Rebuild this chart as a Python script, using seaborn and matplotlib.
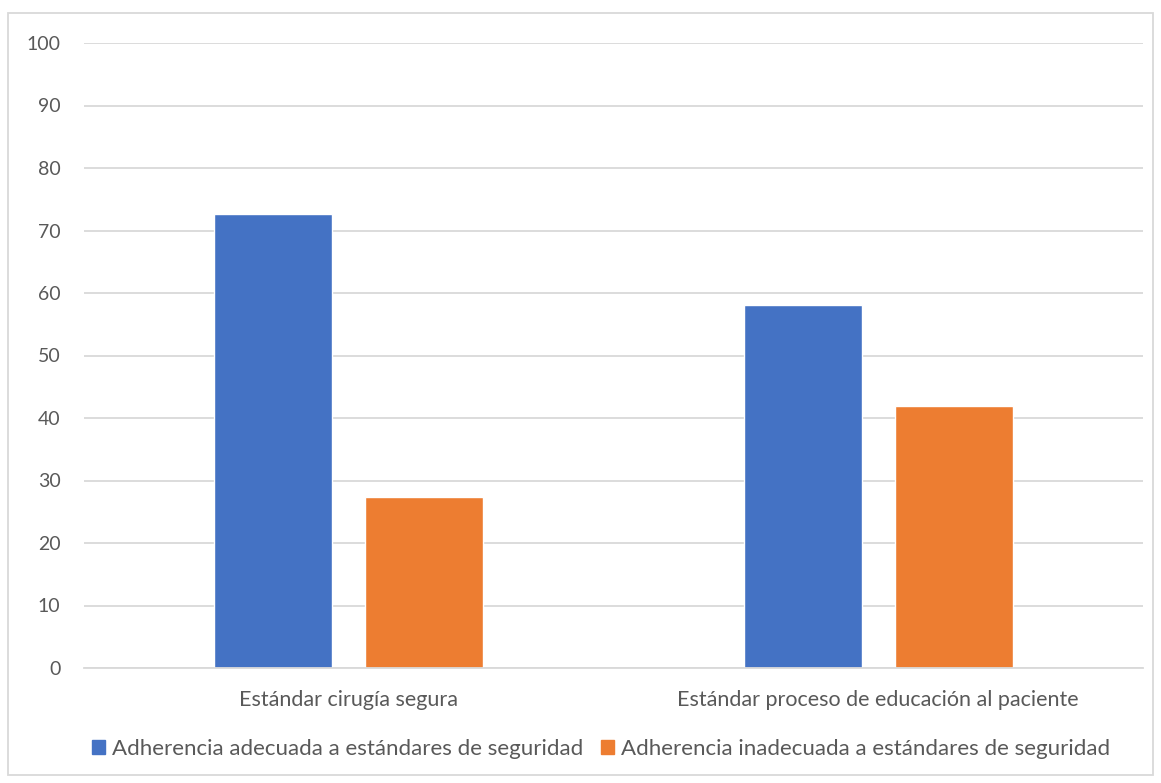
import matplotlib.pyplot as plt
import pandas as pd
import seaborn as sns
from matplotlib.patches import Patch, Rectangle

categories = ["Estándar cirugía segura", "Estándar proceso de educación al paciente"]
series = [
    "Adherencia adecuada a estándares de seguridad",
    "Adherencia inadecuada a estándares de seguridad",
]
adecuada = [72.6, 58.1]
inadecuada = [27.4, 41.9]
colors = ["#4472C4", "#ED7D31"]

df = pd.DataFrame(
    {
        "categoria": categories * 2,
        "serie": [series[0]] * 2 + [series[1]] * 2,
        "valor": adecuada + inadecuada,
    }
)

sns.set_style("white")
plt.rcParams["font.family"] = ["Lato", "DejaVu Sans"]
text_color = "#595959"
grid_color = "#D9D9D9"

fig = plt.figure(figsize=(11.61, 7.83), dpi=100)
ax = fig.add_axes([84 / 1161, 1 - 668 / 783, (1143 - 84) / 1161, (668 - 43) / 783])

sns.barplot(
    data=df,
    x="categoria",
    y="valor",
    hue="serie",
    hue_order=series,
    palette=colors,
    width=0.57,
    gap=0.218,
    saturation=1,
    legend=False,
    ax=ax,
)

ax.set_ylim(0, 100)
ax.set_yticks(range(0, 101, 10))
ax.set_xlim(-0.5, 1.5)
ax.yaxis.grid(True, color=grid_color, linewidth=1.3)
ax.set_axisbelow(True)
ax.set_xlabel("")
ax.set_ylabel("")
for side in ["left", "right", "top"]:
    ax.spines[side].set_visible(False)
ax.spines["bottom"].set_color(grid_color)
ax.spines["bottom"].set_linewidth(1.3)
ax.tick_params(axis="both", length=0, colors=text_color)
ax.tick_params(axis="y", pad=17, labelsize=14)
ax.tick_params(axis="x", pad=16, labelsize=15.5)

# outer chart border
fig.patches.append(
    Rectangle(
        (8 / 1161, 8 / 783),
        (1153 - 8) / 1161,
        (770 - 8) / 783,
        transform=fig.transFigure,
        fill=False,
        edgecolor=grid_color,
        linewidth=1.3,
    )
)

handles = [Patch(facecolor=c, edgecolor=c) for c in colors]
fig.legend(
    handles,
    series,
    loc="center",
    bbox_to_anchor=(601 / 1161, 1 - 749 / 783),
    ncol=2,
    frameon=False,
    fontsize=16,
    labelcolor=text_color,
    handlelength=0.6,
    handleheight=0.6,
    handletextpad=0.3,
    columnspacing=0.8,
)

fig.savefig("out.png", dpi=100)
